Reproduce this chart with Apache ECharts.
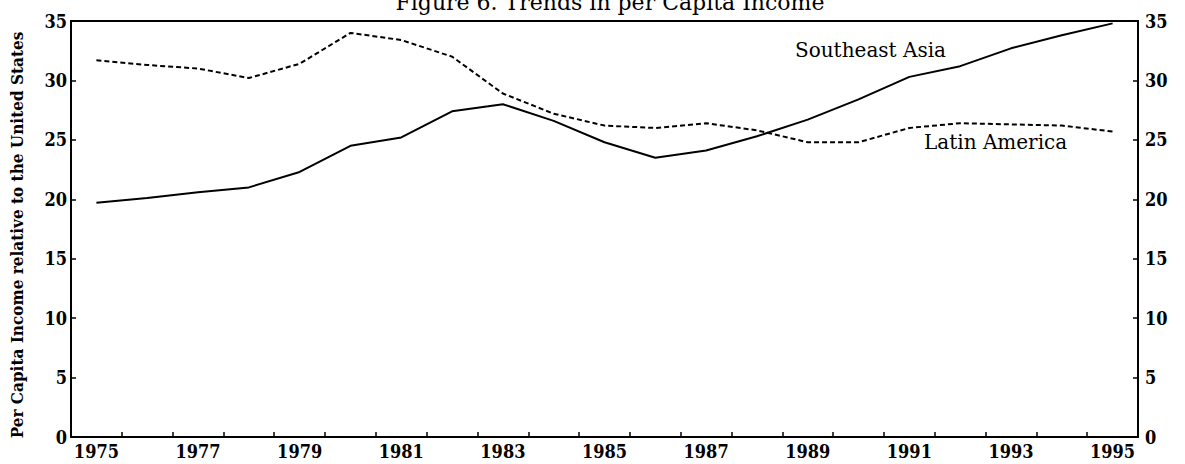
<!DOCTYPE html>
<html>
<head>
<meta charset="utf-8">
<script src="https://cdn.jsdelivr.net/npm/echarts@6/dist/echarts.min.js"></script>
<style>
  html, body { margin: 0; padding: 0; background: #fff; }
  #chart { width: 1185px; height: 464px; }
</style>
</head>
<body>
<div id="chart"></div>
<script>
// years on the x axis
const years = ['1975', '1976', '1977', '1978', '1979', '1980', '1981', '1982', '1983', '1984',
  '1985', '1986', '1987', '1988', '1989', '1990', '1991', '1992', '1993', '1994', '1995'];

// per capita income relative to the US
const southeastAsia = [19.7, 20.1, 20.6, 21.0, 22.3, 24.5, 25.2, 27.4, 28.0, 26.6,
  24.8, 23.5, 24.1, 25.3, 26.7, 28.4, 30.3, 31.2, 32.7, 33.8, 34.8];
const latinAmerica = [31.7, 31.3, 31.0, 30.2, 31.4, 34.0, 33.4, 32.0, 28.9, 27.2,
  26.2, 26.0, 26.4, 25.8, 24.8, 24.8, 26.0, 26.4, 26.3, 26.2, 25.7];

const title = 'Figure 6. Trends in per Capita Income';
const yName = 'Per Capita Income relative to the United States';

const serif = "'DejaVu Serif', serif";
const tickFont = "'DejaVu Serif Condensed', 'DejaVu Serif', serif";

// svg so the text goes through the normal font lookup
const chart = echarts.init(document.getElementById('chart'), null, { renderer: 'svg' });

const yAxisBase = {
  type: 'value',
  min: 0,
  max: 35,
  interval: 5,
  splitLine: { show: false },
  axisLine: { show: true, lineStyle: { color: '#000', width: 2 } },
  axisTick: { show: true, inside: true, length: 5, lineStyle: { color: '#000', width: 1.5 } },
  axisLabel: { color: '#000', fontFamily: tickFont, fontWeight: 'bold', fontSize: 18, margin: 4 }
};

const option = {
  animation: false,
  backgroundColor: '#fff',
  title: {
    // the scanned figure has its title cut at the top edge
    text: title,
    left: 605,
    textAlign: 'center',
    top: -14,
    textStyle: { color: '#000', fontFamily: serif, fontWeight: 'normal', fontSize: 22 }
  },
  grid: {
    left: 68, right: 47, top: 21, bottom: 27,
    show: true, borderColor: '#000', borderWidth: 2
  },
  xAxis: {
    type: 'category',
    data: years,
    boundaryGap: true,
    axisLine: { lineStyle: { color: '#000', width: 2 } },
    axisTick: { show: true, inside: true, length: 5, interval: 0, lineStyle: { color: '#000', width: 1.5 } },
    axisLabel: { interval: 1, color: '#000', fontFamily: tickFont, fontWeight: 'bold', fontSize: 18, margin: 5 }
  },
  yAxis: [
    Object.assign({}, yAxisBase, {
      position: 'left',
      name: yName,
      nameLocation: 'middle',
      nameGap: 46,
      nameRotate: 90,
      nameTextStyle: { color: '#000', fontFamily: tickFont, fontWeight: 'bold', fontSize: 17, padding: [0, 12, 0, 0] }
    }),
    Object.assign({}, yAxisBase, { position: 'right', axisLabel: Object.assign({}, yAxisBase.axisLabel, { margin: 7 }) })
  ],
  graphic: [
    {
      type: 'text', left: 795, top: 40,
      style: { text: 'Southeast Asia', fill: '#000', fontFamily: serif, fontSize: 20 }
    },
    {
      type: 'text', left: 924, top: 132,
      style: { text: 'Latin America', fill: '#000', fontFamily: serif, fontSize: 20 }
    }
  ],
  series: [
    {
      name: 'Southeast Asia',
      type: 'line',
      data: southeastAsia,
      symbol: 'none',
      lineStyle: { color: '#000', width: 2, type: 'solid' }
    },
    {
      name: 'Latin America',
      type: 'line',
      data: latinAmerica,
      symbol: 'none',
      lineStyle: { color: '#000', width: 2, type: [5, 3] }
    }
  ]
};

chart.setOption(option);
</script>
</body>
</html>
